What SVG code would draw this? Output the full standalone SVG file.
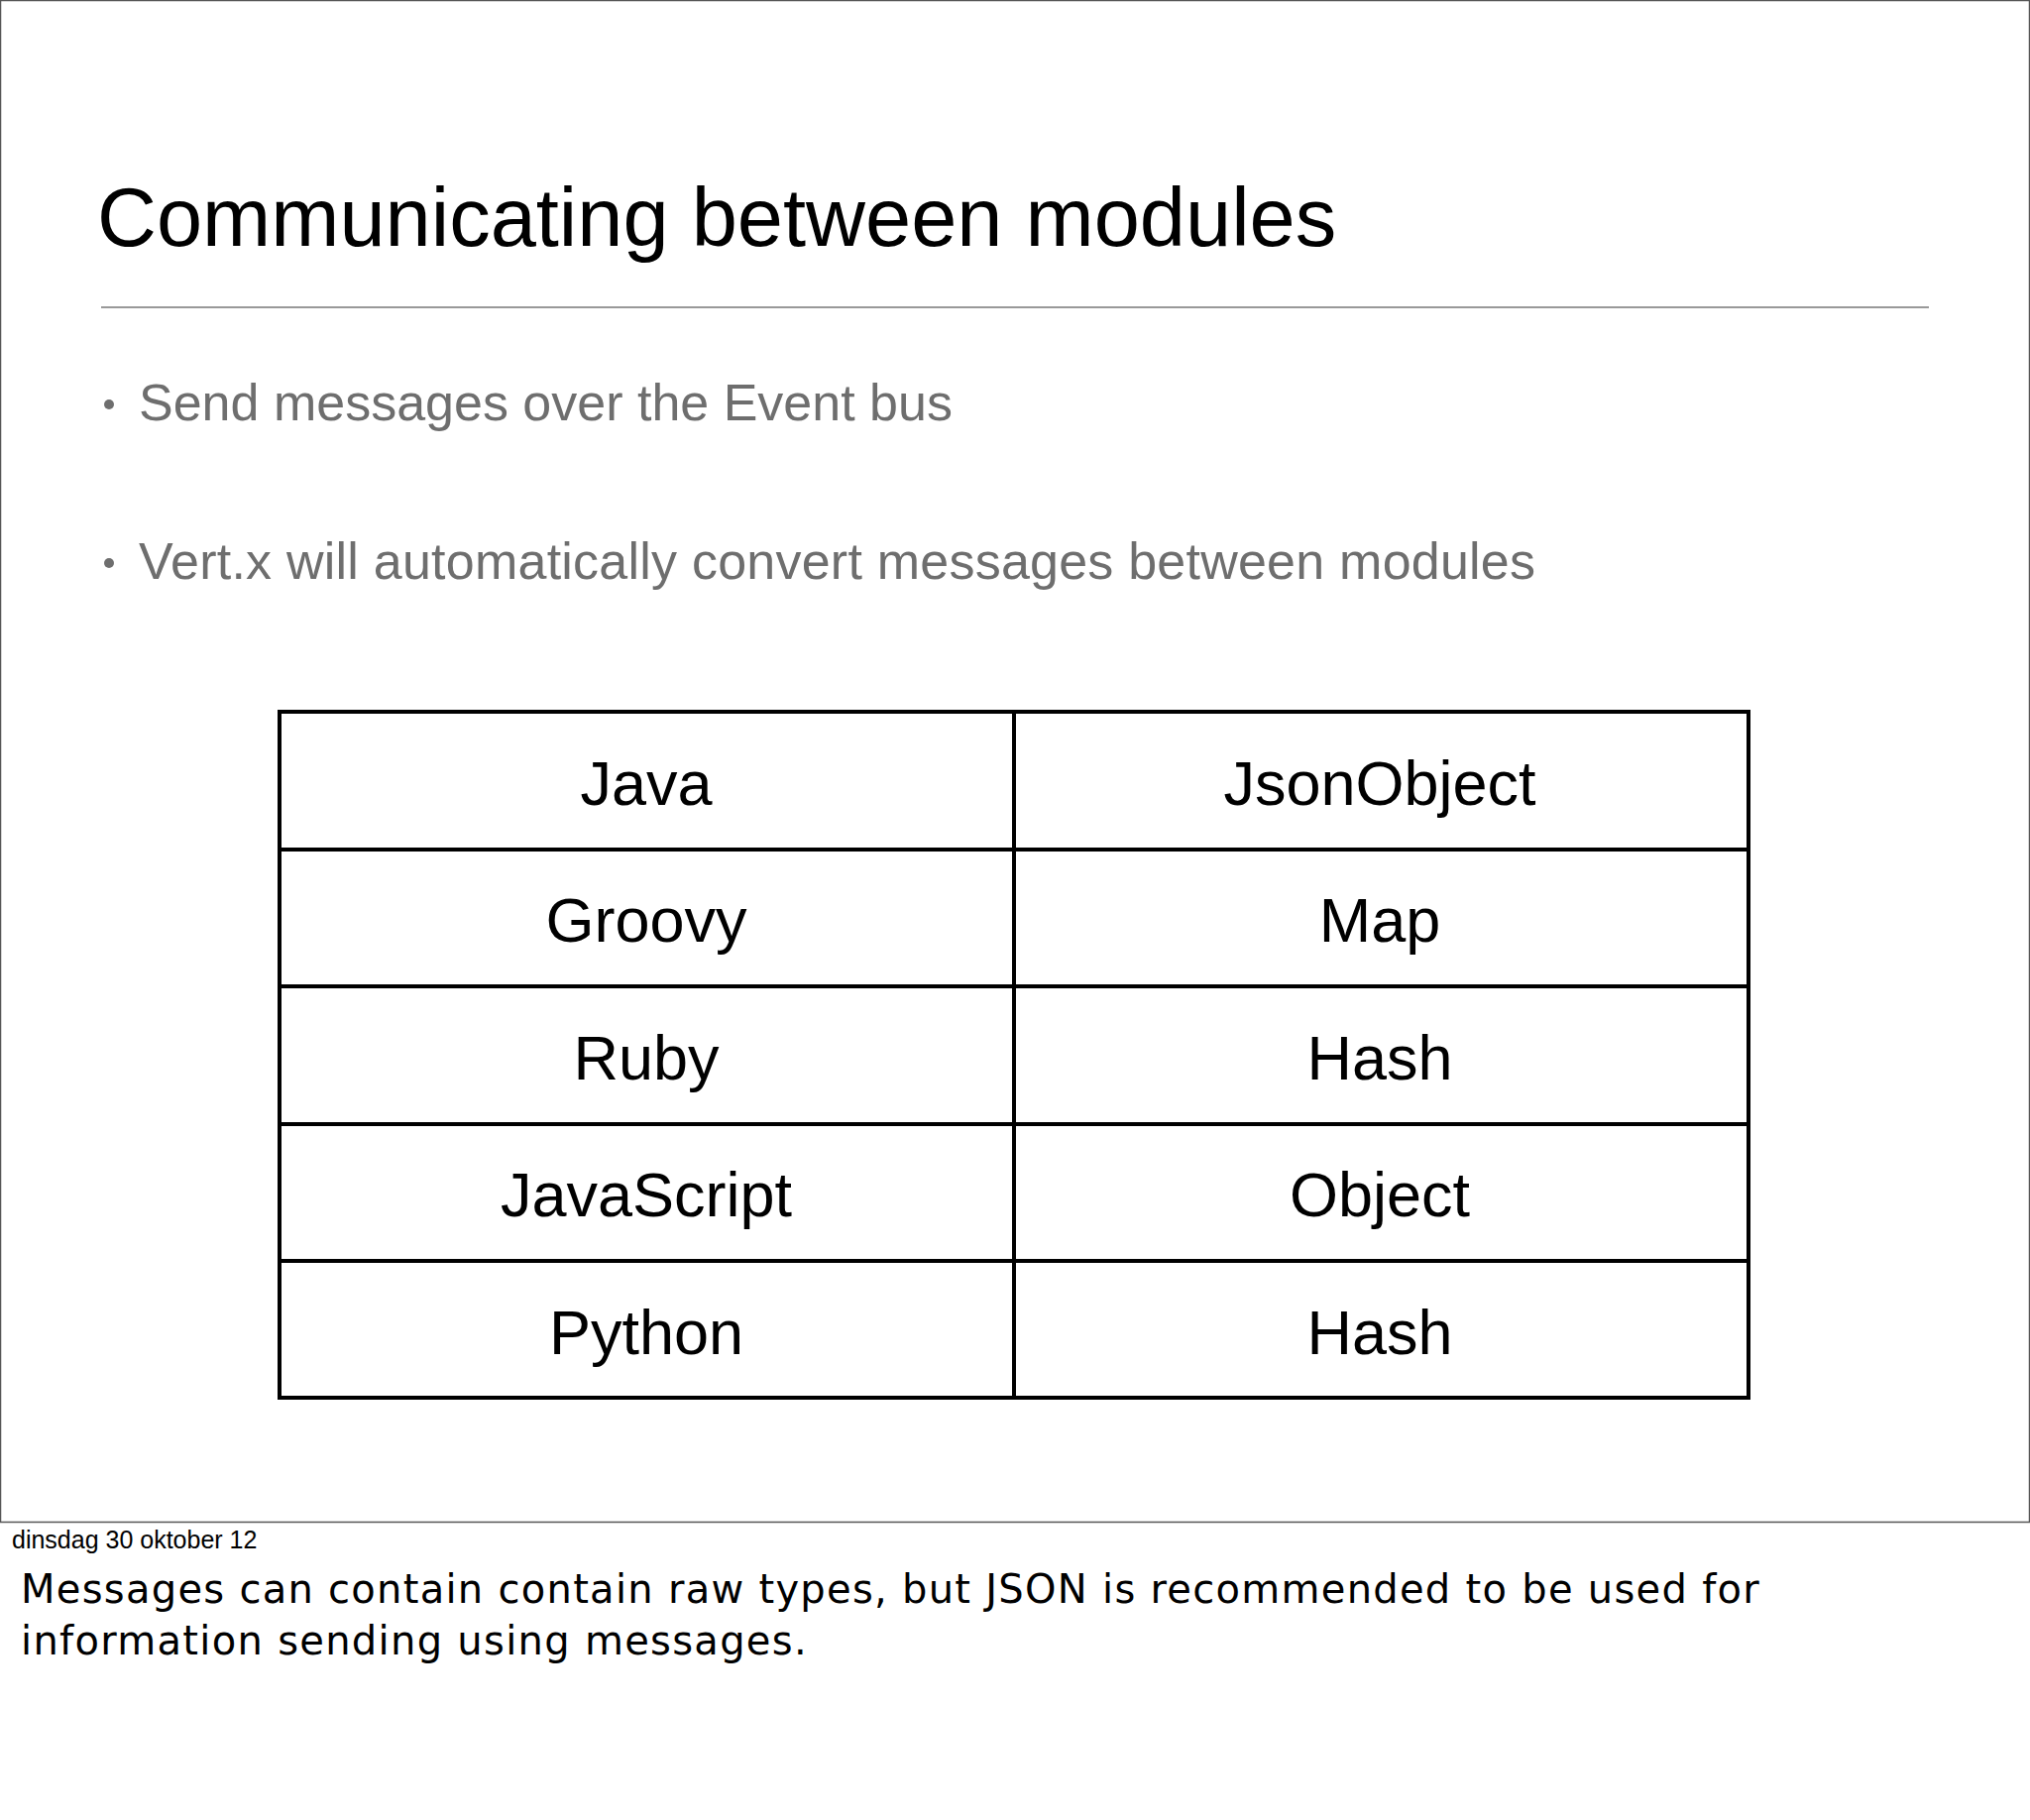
<svg xmlns="http://www.w3.org/2000/svg" width="2048" height="1836" viewBox="0 0 2048 1836">
<style>
.s{font-family:"Liberation Sans",Arial,sans-serif}
.c{font-size:63px;text-anchor:middle;fill:#000}
.b{font-size:52px;fill:#6e6e6e}
.n{font-family:"DejaVu Sans",sans-serif;font-size:40px;fill:#000;letter-spacing:1.3px}
</style>
<rect x="0" y="0" width="2048" height="1836" fill="#fff"/>
<rect x="0.5" y="0.5" width="2047" height="1535" fill="#fff" stroke="#555" stroke-width="1.5"/>
<text class="s" x="98" y="248" font-size="83" fill="#000">Communicating between modules</text>
<line x1="102" y1="310" x2="1946" y2="310" stroke="#999" stroke-width="2"/>
<g id="bullets" class="s b">
<circle cx="110" cy="408" r="5" fill="#6e6e6e"/>
<text x="140" y="424">Send messages over the Event bus</text>
<circle cx="110" cy="568" r="5" fill="#6e6e6e"/>
<text x="140" y="584" textLength="1409">Vert.x will automatically convert messages between modules</text>
</g>
<g id="table" fill="none" stroke="#000" stroke-width="4">
<rect x="282" y="718" width="1482" height="692"/>
<line x1="1023" y1="718" x2="1023" y2="1410"/>
<line x1="282" y1="857" x2="1764" y2="857"/>
<line x1="282" y1="995" x2="1764" y2="995"/>
<line x1="282" y1="1134" x2="1764" y2="1134"/>
<line x1="282" y1="1272" x2="1764" y2="1272"/>
</g>
<g id="cells" class="s c">
<text x="652" y="812">Java</text><text x="1392" y="812">JsonObject</text>
<text x="652" y="950">Groovy</text><text x="1392" y="950">Map</text>
<text x="652" y="1089">Ruby</text><text x="1392" y="1089">Hash</text>
<text x="652" y="1227">JavaScript</text><text x="1392" y="1227">Object</text>
<text x="652" y="1366">Python</text><text x="1392" y="1366">Hash</text>
</g>
<text class="s" x="12" y="1562" font-size="25" fill="#000">dinsdag 30 oktober 12</text>
<text class="n" x="21" y="1617" textLength="1755">Messages can contain contain raw types, but JSON is recommended to be used for</text>
<text class="n" x="21" y="1669">information sending using messages.</text>
</svg>
